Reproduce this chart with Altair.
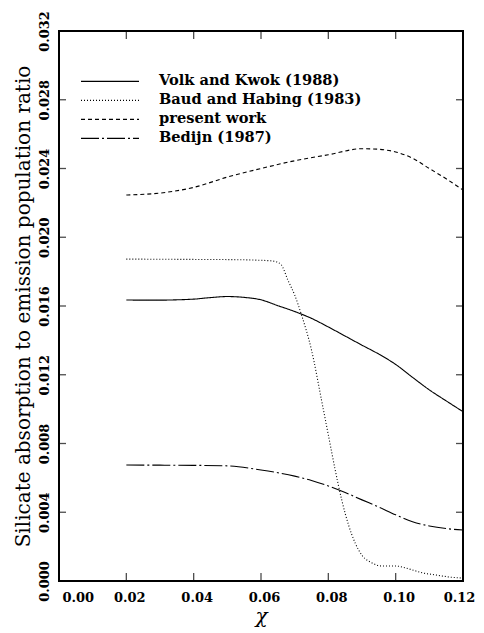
import altair as alt
import pandas as pd

series_names = ["Volk and Kwok (1988)", "Baud and Habing (1983)", "present work", "Bedijn (1987)"]

vk_x = [0.020, 0.025, 0.030, 0.035, 0.040, 0.045, 0.050, 0.055, 0.060, 0.065, 0.070, 0.075,
        0.080, 0.085, 0.090, 0.095, 0.100, 0.105, 0.110, 0.115, 0.120]
vk_y = [0.01635, 0.01634, 0.01634, 0.01636, 0.01640, 0.01649, 0.01655, 0.01650, 0.01636, 0.01602,
        0.01568, 0.01528, 0.01478, 0.01425, 0.01372, 0.01320, 0.01260, 0.01185, 0.01112, 0.01048, 0.00985]

bh_x = [0.020, 0.030, 0.040, 0.050, 0.060, 0.064, 0.066, 0.068, 0.070, 0.072, 0.075, 0.078,
        0.080, 0.082, 0.084, 0.086, 0.088, 0.090, 0.093, 0.096, 0.100, 0.104, 0.108, 0.112, 0.116, 0.120]
bh_y = [0.01873, 0.01872, 0.01871, 0.01870, 0.01866, 0.01860, 0.01840, 0.01750, 0.01664, 0.01550,
        0.01344, 0.01050, 0.00850, 0.00650, 0.00470, 0.00326, 0.00220, 0.00150, 0.00105, 0.00087,
        0.00087, 0.00070, 0.00047, 0.00035, 0.00023, 0.00017]

pw_x = [0.020, 0.030, 0.040, 0.050, 0.060, 0.070, 0.080, 0.090, 0.095, 0.100, 0.105, 0.110, 0.115, 0.120]
pw_y = [0.02246, 0.02257, 0.02290, 0.02350, 0.02400, 0.02445, 0.02480, 0.02515, 0.02512, 0.02496,
        0.02460, 0.02400, 0.02340, 0.02275]

bd_x = [0.020, 0.030, 0.040, 0.050, 0.060, 0.065, 0.070, 0.075, 0.080, 0.085, 0.090, 0.095,
        0.100, 0.105, 0.110, 0.115, 0.120]
bd_y = [0.00675, 0.00674, 0.00673, 0.00670, 0.00646, 0.00630, 0.00610, 0.00585, 0.00553, 0.00515,
        0.00472, 0.00430, 0.00385, 0.00345, 0.00320, 0.00305, 0.00297]

x_tick_values = [0.00, 0.02, 0.04, 0.06, 0.08, 0.10, 0.12]
y_tick_values = [0.000, 0.004, 0.008, 0.012, 0.016, 0.020, 0.024, 0.028, 0.032]
x_inner_ticks = [0.02, 0.04, 0.06, 0.08, 0.10]
y_inner_ticks = [0.004, 0.008, 0.012, 0.016, 0.020, 0.024, 0.028]

rows = []
for name, xs, ys in zip(series_names, [vk_x, bh_x, pw_x, bd_x], [vk_y, bh_y, pw_y, bd_y]):
    for i, (a, b) in enumerate(zip(xs, ys)):
        rows.append({"series": name, "chi": a, "ratio": b, "idx": i})
df = pd.DataFrame(rows)

x_scale = alt.Scale(domain=[0, 0.12], nice=False, zero=False)
y_scale = alt.Scale(domain=[0, 0.032], nice=False, zero=False)

serif = "DejaVu Serif"

x_axis = alt.Axis(values=x_tick_values, format=".2f", title="χ",
                  labelPadding=10, titleFontStyle="italic", titlePadding=2, labelFlush=False,
                  labelOffset={"condition": {"test": "datum.value >= 0.119", "value": -4},
                               "value": 3},
                  labelAlign={"condition": {"test": "datum.value === 0", "value": "left"},
                              "value": "center"})
y_axis = alt.Axis(values=y_tick_values, format=".3f",
                  title="Silicate absorption to emission population ratio",
                  labelAngle=270, labelPadding=8, labelFlush=False, titlePadding=5)

lines = alt.Chart(df).mark_line(strokeWidth=1.1, color="black", interpolate="monotone").encode(
    x=alt.X("chi:Q", scale=x_scale, axis=x_axis),
    y=alt.Y("ratio:Q", scale=y_scale, axis=y_axis),
    strokeDash=alt.StrokeDash("series:N",
                              scale=alt.Scale(domain=series_names,
                                              range=[[1, 0], [1, 2], [4, 3], [18, 3, 2, 3]]),
                              sort=series_names,
                              legend=alt.Legend(title=None, orient="none", legendX=21, legendY=41,
                                                padding=0,
                                                symbolType="stroke", symbolSize=3364,
                                                symbolStrokeWidth=1.2, symbolStrokeColor="black",
                                                labelFont=serif, labelFontSize=14.6,
                                                labelFontWeight="bold",
                                                labelColor="black", labelOffset=19,
                                                rowPadding=0, clipHeight=18.7, labelLimit=400)),
    detail="series:N",
    order="idx:Q",
)

ydf = pd.DataFrame({"v": y_inner_ticks})
xdf = pd.DataFrame({"v": x_inner_ticks})

tick_style = dict(clip=True, color="black", thickness=1.3)

left_ticks = alt.Chart(ydf).mark_tick(orient="horizontal", size=14, **tick_style).encode(
    y=alt.Y("v:Q", scale=y_scale), x=alt.X(datum=0.0, scale=x_scale))
right_ticks = alt.Chart(ydf).mark_tick(orient="horizontal", size=14, **tick_style).encode(
    y=alt.Y("v:Q", scale=y_scale), x=alt.X(datum=0.12, scale=x_scale))
bottom_ticks = alt.Chart(xdf).mark_tick(orient="vertical", size=16, **tick_style).encode(
    x=alt.X("v:Q", scale=x_scale), y=alt.Y(datum=0.0, scale=y_scale))
top_ticks = alt.Chart(xdf).mark_tick(orient="vertical", size=16, **tick_style).encode(
    x=alt.X("v:Q", scale=x_scale), y=alt.Y(datum=0.032, scale=y_scale))

chart = alt.layer(lines, left_ticks, right_ticks, bottom_ticks, top_ticks).properties(
    width=404, height=550,
    autosize=alt.AutoSizeParams(type="none"),
    padding={"left": 51, "top": 23, "right": 13, "bottom": 50},
    background="white",
).configure_view(stroke="black", strokeWidth=2).configure_axis(
    grid=False, ticks=False, domain=False,
    labelFont=serif, labelFontSize=13, labelFontWeight="bold", labelColor="black",
    titleFont=serif, titleFontSize=20, titleFontWeight="normal", titleColor="black",
)

chart.save("out.html", embed_options={"renderer": "svg", "actions": False})
